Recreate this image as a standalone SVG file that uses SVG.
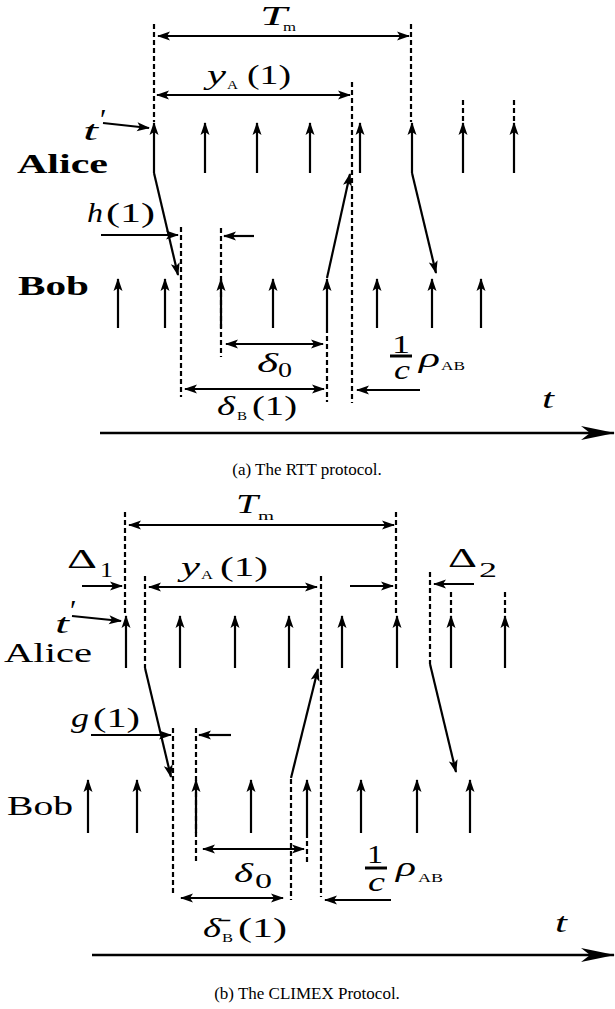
<svg xmlns="http://www.w3.org/2000/svg" width="615" height="1009" viewBox="0 0 615 1009">
<style>
.s{stroke:#000;stroke-width:2.2;fill:none}
.d{stroke:#000;stroke-width:2.2;fill:none;stroke-dasharray:5 3}
.a{stroke:#000;stroke-width:2.2;fill:none;marker-end:url(#ah)}
.aa{stroke:#000;stroke-width:2.2;fill:none;marker-start:url(#ah);marker-end:url(#ah)}
.ax{stroke:#000;stroke-width:2.6;fill:none;marker-end:url(#big)}
.m{font-style:italic;font-size:27px}
.r{font-size:27px}
.sub{font-size:13px}
.n{font-size:20px}
.b{font-weight:bold;font-size:28px}
.cap{font-size:17px}
</style>
<defs>
<marker id="ah" viewBox="-13 -5 15 10" refX="0" refY="0" markerWidth="15" markerHeight="10" orient="auto-start-reverse" markerUnits="userSpaceOnUse"><path d="M1,0 L-12,-4.5 L-9,0 L-12,4.5 Z" fill="#000"/></marker>
<marker id="big" viewBox="-34 -8 36 16" refX="0" refY="0" markerWidth="36" markerHeight="16" orient="auto" markerUnits="userSpaceOnUse"><path d="M1,0 L-33,-7 L-24,0 L-33,7 Z" fill="#000"/></marker>
</defs>

<!-- ===== (a) RTT protocol ===== -->
<g id="alice-a-ticks">
<line class="a" x1="154" y1="173" x2="154" y2="123"/>
<line class="a" x1="205" y1="173" x2="205" y2="123"/>
<line class="a" x1="257" y1="173" x2="257" y2="123"/>
<line class="a" x1="310" y1="173" x2="310" y2="123"/>
<line class="a" x1="360" y1="173" x2="360" y2="123"/>
<line class="a" x1="412" y1="173" x2="412" y2="123"/>
<line class="a" x1="463" y1="173" x2="463" y2="123"/>
<line class="a" x1="514" y1="173" x2="514" y2="123"/>
</g>
<g id="bob-a-ticks">
<line class="a" x1="118" y1="328" x2="118" y2="279"/>
<line class="a" x1="165" y1="328" x2="165" y2="279"/>
<line class="a" x1="221" y1="328" x2="221" y2="279"/>
<line class="a" x1="273" y1="328" x2="273" y2="279"/>
<line class="a" x1="327" y1="328" x2="327" y2="279"/>
<line class="a" x1="377" y1="328" x2="377" y2="279"/>
<line class="a" x1="432" y1="328" x2="432" y2="279"/>
<line class="a" x1="481" y1="328" x2="481" y2="279"/>
</g>
<g id="guides-a">
<line class="d" x1="154" y1="24" x2="154" y2="122"/>
<line class="d" x1="411" y1="24" x2="411" y2="122"/>
<line class="d" x1="352" y1="82" x2="352" y2="403"/>
<line class="d" x1="463" y1="100" x2="463" y2="122"/>
<line class="d" x1="514" y1="100" x2="514" y2="122"/>
<line class="d" x1="181" y1="227" x2="181" y2="397"/>
<line class="d" x1="221" y1="228" x2="221" y2="357"/>
<line class="d" x1="327" y1="328" x2="327" y2="402"/>
</g>
<g id="connectors-a">
<line class="aa" x1="158" y1="36" x2="409" y2="36"/>
<line class="aa" x1="157" y1="95" x2="350" y2="95"/>
<line class="a" x1="103" y1="123" x2="149" y2="128"/>
<line class="a" x1="101" y1="235" x2="178" y2="235"/>
<line class="a" x1="254" y1="236" x2="224" y2="236"/>
<line class="aa" x1="226" y1="344" x2="323" y2="344"/>
<line class="aa" x1="185" y1="389" x2="324" y2="389"/>
<line class="a" x1="420" y1="390" x2="357" y2="390"/>
<line class="a" x1="154" y1="173" x2="178" y2="275"/>
<line class="a" x1="327" y1="278" x2="350" y2="174"/>
<line class="a" x1="412" y1="173" x2="436" y2="273"/>
<line class="ax" x1="100" y1="433" x2="614" y2="433"/>
<line class="s" x1="390" y1="356" x2="412" y2="356" style="stroke-width:3"/>
</g>
<g id="labels-a" fill="#000">
<text font-family="Liberation Serif"><tspan class="m" x="260" y="25" textLength="27" lengthAdjust="spacingAndGlyphs">T</tspan><tspan class="sub" x="283" y="31" textLength="13" lengthAdjust="spacingAndGlyphs">m</tspan></text>
<text font-family="Liberation Serif"><tspan class="m" x="207" y="84" textLength="19" lengthAdjust="spacingAndGlyphs">y</tspan><tspan class="sub" x="227" y="89" textLength="11" lengthAdjust="spacingAndGlyphs">A</tspan><tspan class="r" x="247" y="84" textLength="44" lengthAdjust="spacingAndGlyphs">(1)</tspan></text>
<text font-family="Liberation Serif"><tspan class="m" x="83" y="140" textLength="15" lengthAdjust="spacingAndGlyphs">t</tspan><tspan class="r" x="100" y="129" style="font-size:30px">′</tspan></text>
<text font-family="Liberation Serif" class="b" x="17" y="173" textLength="91" lengthAdjust="spacingAndGlyphs">Alice</text>
<text font-family="Liberation Serif"><tspan class="m" x="87" y="222" textLength="16" lengthAdjust="spacingAndGlyphs">h</tspan><tspan class="r" x="106" y="222" textLength="49" lengthAdjust="spacingAndGlyphs">(1)</tspan></text>
<text font-family="Liberation Serif" class="b" x="18" y="295" textLength="71" lengthAdjust="spacingAndGlyphs">Bob</text>
<text font-family="Liberation Serif"><tspan class="m" x="257" y="372" textLength="21" lengthAdjust="spacingAndGlyphs">δ</tspan><tspan class="n" x="278" y="377" textLength="14" lengthAdjust="spacingAndGlyphs">0</tspan></text>
<text font-family="Liberation Serif"><tspan class="m" x="217" y="415" textLength="18" lengthAdjust="spacingAndGlyphs">δ</tspan><tspan class="sub" x="237" y="420" textLength="10" lengthAdjust="spacingAndGlyphs">B</tspan><tspan class="r" x="252" y="415" textLength="45" lengthAdjust="spacingAndGlyphs">(1)</tspan></text>
<text font-family="Liberation Serif"><tspan class="r" x="392" y="353" style="font-size:25px" textLength="18" lengthAdjust="spacingAndGlyphs">1</tspan><tspan class="m" x="394" y="379" textLength="16" lengthAdjust="spacingAndGlyphs">c</tspan><tspan class="m" x="419" y="367" textLength="21" lengthAdjust="spacingAndGlyphs">ρ</tspan><tspan class="sub" x="441" y="370" textLength="24" lengthAdjust="spacingAndGlyphs">AB</tspan></text>
<text font-family="Liberation Serif" class="m" x="542" y="408" textLength="12" lengthAdjust="spacingAndGlyphs">t</text>
<text font-family="Liberation Serif" class="cap" x="307" y="475" text-anchor="middle">(a) The RTT protocol.</text>
</g>

<!-- ===== (b) CLIMEX protocol ===== -->
<g id="alice-b-ticks">
<line class="a" x1="126" y1="668" x2="126" y2="616"/>
<line class="a" x1="180" y1="668" x2="180" y2="616"/>
<line class="a" x1="235" y1="668" x2="235" y2="616"/>
<line class="a" x1="289" y1="668" x2="289" y2="616"/>
<line class="a" x1="342" y1="668" x2="342" y2="616"/>
<line class="a" x1="397" y1="668" x2="397" y2="616"/>
<line class="a" x1="451" y1="668" x2="451" y2="616"/>
<line class="a" x1="505" y1="668" x2="505" y2="616"/>
</g>
<g id="bob-b-ticks">
<line class="a" x1="88" y1="833" x2="88" y2="780"/>
<line class="a" x1="137" y1="833" x2="137" y2="780"/>
<line class="a" x1="196" y1="833" x2="196" y2="780"/>
<line class="a" x1="251" y1="833" x2="251" y2="780"/>
<line class="a" x1="307" y1="833" x2="307" y2="780"/>
<line class="a" x1="361" y1="833" x2="361" y2="780"/>
<line class="a" x1="417" y1="833" x2="417" y2="780"/>
<line class="a" x1="470" y1="833" x2="470" y2="780"/>
</g>
<g id="guides-b">
<line class="d" x1="125" y1="512" x2="125" y2="615"/>
<line class="d" x1="145" y1="576" x2="145" y2="668"/>
<line class="d" x1="321" y1="576" x2="321" y2="897"/>
<line class="d" x1="396" y1="512" x2="396" y2="615"/>
<line class="d" x1="430" y1="572" x2="430" y2="664"/>
<line class="d" x1="451" y1="592" x2="451" y2="615"/>
<line class="d" x1="505" y1="592" x2="505" y2="615"/>
<line class="d" x1="173" y1="728" x2="173" y2="895"/>
<line class="d" x1="196" y1="728" x2="196" y2="863"/>
<line class="d" x1="291" y1="779" x2="291" y2="900"/>
<line class="d" x1="307" y1="833" x2="307" y2="865"/>
</g>
<g id="connectors-b">
<line class="aa" x1="129" y1="525" x2="394" y2="525"/>
<line class="aa" x1="149" y1="587" x2="317" y2="587"/>
<line class="a" x1="82" y1="586" x2="122" y2="586"/>
<line class="a" x1="350" y1="586" x2="393" y2="586"/>
<line class="a" x1="474" y1="584" x2="434" y2="584"/>
<line class="a" x1="72" y1="616" x2="121" y2="621"/>
<line class="a" x1="91" y1="735" x2="171" y2="735"/>
<line class="a" x1="231" y1="735" x2="199" y2="735"/>
<line class="aa" x1="203" y1="849" x2="304" y2="849"/>
<line class="aa" x1="181" y1="898" x2="283" y2="898"/>
<line class="a" x1="391" y1="900" x2="325" y2="900"/>
<line class="a" x1="145" y1="668" x2="171" y2="777"/>
<line class="a" x1="291" y1="778" x2="318" y2="669"/>
<line class="a" x1="430" y1="664" x2="456" y2="772"/>
<line class="ax" x1="92" y1="955" x2="614" y2="955"/>
<line class="s" x1="365" y1="868" x2="387" y2="868" style="stroke-width:3"/>
</g>
<g id="labels-b" fill="#000">
<text font-family="Liberation Serif"><tspan class="m" x="236" y="513" textLength="22" lengthAdjust="spacingAndGlyphs">T</tspan><tspan class="sub" x="258" y="520" textLength="16" lengthAdjust="spacingAndGlyphs">m</tspan></text>
<text font-family="Liberation Serif"><tspan class="r" x="67" y="568" textLength="30" lengthAdjust="spacingAndGlyphs">Δ</tspan><tspan class="n" x="100" y="577" textLength="13" lengthAdjust="spacingAndGlyphs">1</tspan></text>
<text font-family="Liberation Serif"><tspan class="m" x="181" y="576" textLength="19" lengthAdjust="spacingAndGlyphs">y</tspan><tspan class="sub" x="201" y="579" textLength="12" lengthAdjust="spacingAndGlyphs">A</tspan><tspan class="r" x="220" y="576" textLength="48" lengthAdjust="spacingAndGlyphs">(1)</tspan></text>
<text font-family="Liberation Serif"><tspan class="m" x="55" y="633" textLength="14" lengthAdjust="spacingAndGlyphs">t</tspan><tspan class="r" x="70" y="620" style="font-size:30px">′</tspan></text>
<text font-family="Liberation Serif" class="r" x="4" y="662" style="font-size:28px" textLength="88" lengthAdjust="spacingAndGlyphs">Alice</text>
<text font-family="Liberation Serif"><tspan class="r" x="448" y="567" textLength="29" lengthAdjust="spacingAndGlyphs">Δ</tspan><tspan class="n" x="479" y="577" textLength="18" lengthAdjust="spacingAndGlyphs">2</tspan></text>
<text font-family="Liberation Serif"><tspan class="m" x="71" y="727" textLength="18" lengthAdjust="spacingAndGlyphs">g</tspan><tspan class="r" x="93" y="727" textLength="47" lengthAdjust="spacingAndGlyphs">(1)</tspan></text>
<text font-family="Liberation Serif" class="r" x="7" y="815" style="font-size:28px" textLength="66" lengthAdjust="spacingAndGlyphs">Bob</text>
<text font-family="Liberation Serif"><tspan class="m" x="234" y="882" textLength="19" lengthAdjust="spacingAndGlyphs">δ</tspan><tspan class="n" x="255" y="888" textLength="17" lengthAdjust="spacingAndGlyphs">0</tspan></text>
<text font-family="Liberation Serif"><tspan class="m" x="203" y="937" textLength="18" lengthAdjust="spacingAndGlyphs">δ̄</tspan><tspan class="sub" x="222" y="942" textLength="11" lengthAdjust="spacingAndGlyphs">B</tspan><tspan class="r" x="238" y="937" textLength="49" lengthAdjust="spacingAndGlyphs">(1)</tspan></text>
<text font-family="Liberation Serif"><tspan class="r" x="367" y="863" style="font-size:25px" textLength="16" lengthAdjust="spacingAndGlyphs">1</tspan><tspan class="m" x="368" y="891" textLength="17" lengthAdjust="spacingAndGlyphs">c</tspan><tspan class="m" x="396" y="876" textLength="20" lengthAdjust="spacingAndGlyphs">ρ</tspan><tspan class="sub" x="418" y="882" textLength="25" lengthAdjust="spacingAndGlyphs">AB</tspan></text>
<text font-family="Liberation Serif" class="m" x="555" y="932" textLength="12" lengthAdjust="spacingAndGlyphs">t</text>
<text font-family="Liberation Serif" class="cap" x="307" y="999" text-anchor="middle">(b) The CLIMEX Protocol.</text>
</g>
</svg>
